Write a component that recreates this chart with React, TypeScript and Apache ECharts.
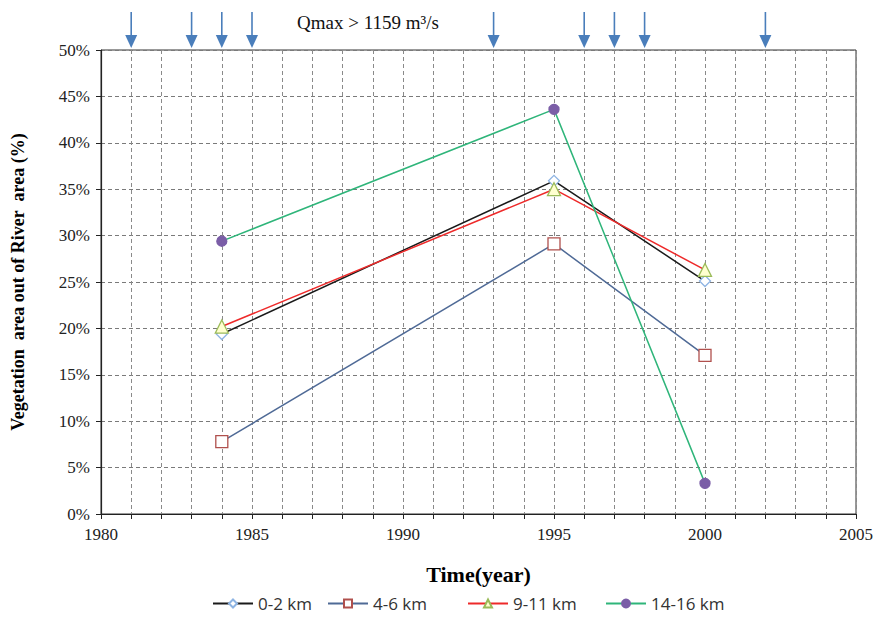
import React, { useEffect, useRef } from "react";
import * as echarts from "echarts";

const years = [1984, 1995, 2000];
const seriesNames = ["0-2 km", "4-6 km", "9-11 km", "14-16 km"];
const km0_2 = [19.4, 35.9, 25.1];
const km4_6 = [7.8, 29.1, 17.1];
const km9_11 = [20.2, 35.0, 26.3];
const km14_16 = [29.4, 43.6, 3.3];
const floodYears = [1981, 1983, 1984, 1985, 1993, 1996, 1997, 1998, 2002];
const yTicks = [0, 5, 10, 15, 20, 25, 30, 35, 40, 45, 50];
const xTickLabels = [1980, 1985, 1990, 1995, 2000, 2005];

const SERIF = "Liberation Serif";
const SANS = "Open Sans";

export default function App() {
  const ref = useRef<HTMLDivElement>(null);
  useEffect(() => {
    if (!ref.current) return;
    const chart = echarts.init(ref.current, undefined, { renderer: "svg" });
    const mk = (vals: number[]) => years.map((y, i) => [y, vals[i]]);
    const lineColors = ["#1a1a1a", "#4f6a96", "#ee2a2a", "#2fb57a"];
    const markerBorders = ["#8eb4e3", "#b0504d", "#9bbb59", "#7b5ea7"];
    const markerFills = ["#ffffff", "#ffffff", "#ffffd0", "#7b5ea7"];
    const symbols = ["diamond", "rect", "triangle", "circle"];
    const symbolSizes = [11, 12, 13, 10];
    const datasets = [km0_2, km4_6, km9_11, km14_16];
    const legendLefts = [212, 327, 467, 605];
    const xMin = xTickLabels[0];
    const xMax = xTickLabels[xTickLabels.length - 1];
    const yMin = yTicks[0];
    const yMax = yTicks[yTicks.length - 1];

    const lineSeries = seriesNames.map((name, i) => ({
      name,
      type: "line",
      data: mk(datasets[i]),
      symbol: symbols[i],
      symbolSize: symbolSizes[i],
      showAllSymbol: true,
      lineStyle: { color: lineColors[i], width: 1.5 },
      itemStyle: {
        color: markerFills[i],
        borderColor: markerBorders[i],
        borderWidth: 1.3,
      },
      z: 3,
    }));

    chart.setOption({
      animation: false,
      backgroundColor: "#ffffff",
      textStyle: { fontFamily: SERIF },
      grid: {
        left: 101,
        right: 21,
        top: 50,
        bottom: 105,
        show: true,
        borderColor: "#333",
        borderWidth: 1,
        backgroundColor: "transparent",
      },
      legend: seriesNames.map((name, i) => ({
        data: [name],
        left: legendLefts[i],
        top: 595,
        padding: 0,
        itemWidth: 40,
        itemHeight: 10,
        itemGap: 4,
        textStyle: { fontFamily: SANS, fontSize: 17, color: "#333" },
      })),
      xAxis: {
        type: "value",
        min: xMin,
        max: xMax,
        interval: 1,
        name: "Time(year)",
        nameLocation: "middle",
        nameGap: 49,
        nameTextStyle: {
          fontFamily: SERIF,
          fontSize: 22,
          fontWeight: "bold",
          color: "#000",
        },
        axisLine: { show: true, lineStyle: { color: "#222", width: 1.2 } },
        axisTick: { show: true, length: 5, lineStyle: { color: "#222" } },
        axisLabel: { show: false },
        splitLine: {
          show: true,
          lineStyle: { color: "#8a8a8a", type: [4, 3], width: 1 },
        },
      },
      yAxis: {
        type: "value",
        min: yMin,
        max: yMax,
        interval: 5,
        name: "Vegetation  area out of River  area (%)",
        nameLocation: "middle",
        nameGap: 74,
        nameTextStyle: {
          fontFamily: SERIF,
          fontSize: 18,
          fontWeight: "bold",
          color: "#000",
        },
        axisLine: { show: true, lineStyle: { color: "#222", width: 1.2 } },
        axisTick: { show: true, inside: false, length: 5, lineStyle: { color: "#222" } },
        axisLabel: { show: false },
        splitLine: {
          show: true,
          lineStyle: { color: "#7a7a7a", type: [4, 3], width: 1 },
        },
      },
      series: [
        ...lineSeries,
        {
          name: "flood",
          type: "custom",
          silent: true,
          clip: false,
          z: 5,
          data: floodYears.map((y) => [y, yMax]),
          encode: { x: 0, y: 1 },
          renderItem: (params: any, api: any) => {
            const p = api.coord([api.value(0), api.value(1)]);
            const x = p[0];
            const top = p[1];
            return {
              type: "group",
              children: [
                {
                  type: "line",
                  shape: { x1: x, y1: top - 38, x2: x, y2: top - 12 },
                  style: { stroke: "#4a7ebb", lineWidth: 1.6 },
                },
                {
                  type: "polygon",
                  shape: {
                    points: [
                      [x - 6, top - 15],
                      [x + 6, top - 15],
                      [x, top - 2],
                    ],
                  },
                  style: { fill: "#4a7ebb" },
                },
              ],
            };
          },
        },
      ],
    });

    const toPx = (v: number[]) =>
      chart.convertToPixel({ xAxisIndex: 0, yAxisIndex: 0 }, v) as number[];

    const xLabelEls = xTickLabels.map((yr) => {
      const p = toPx([yr, yMin]);
      return {
        type: "text",
        x: p[0],
        y: p[1] + 12,
        silent: true,
        style: {
          text: String(yr),
          fontFamily: SERIF,
          fontSize: 17,
          fill: "#222",
          align: "center",
          verticalAlign: "top",
        },
      };
    });
    const yLabelEls = yTicks.map((v) => {
      const p = toPx([xMin, v]);
      return {
        type: "text",
        x: p[0] - 11,
        y: p[1],
        silent: true,
        style: {
          text: `${v}%`,
          fontFamily: SERIF,
          fontSize: 17,
          fill: "#222",
          align: "right",
          verticalAlign: "middle",
        },
      };
    });

    chart.setOption({
      graphic: [
        {
          type: "text",
          left: 297,
          top: 13,
          silent: true,
          style: {
            text: "Qmax > 1159 m³/s",
            fontFamily: SERIF,
            fontSize: 19,
            fill: "#111",
          },
        },
        ...xLabelEls,
        ...yLabelEls,
      ],
    });
    return () => chart.dispose();
  }, []);
  return (
    <div
      ref={ref}
      style={{ position: "fixed", left: 0, top: 0, width: 877, height: 619 }}
    />
  );
}
